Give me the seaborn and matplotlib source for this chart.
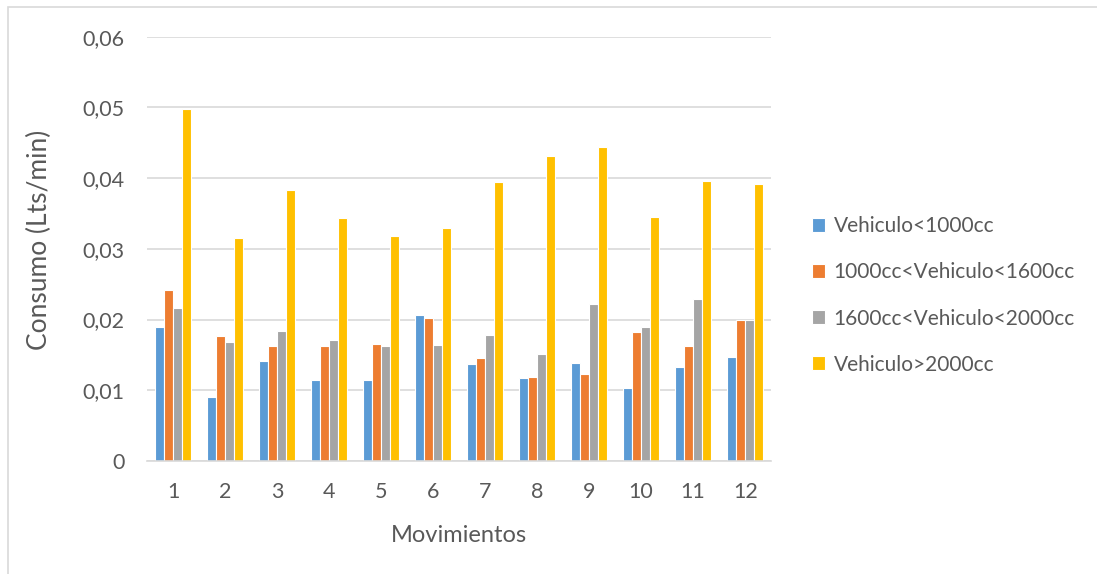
import numpy as np
import matplotlib.pyplot as plt
import pandas as pd
import seaborn as sns
from matplotlib.patches import Rectangle
from matplotlib.ticker import FuncFormatter

movimientos = ['1', '2', '3', '4', '5', '6', '7', '8', '9', '10', '11', '12']
series = ['Vehiculo<1000cc', '1000cc<Vehiculo<1600cc',
          '1600cc<Vehiculo<2000cc', 'Vehiculo>2000cc']
v_1000 = [0.0190, 0.0090, 0.0142, 0.0115, 0.0114, 0.0207,
          0.0137, 0.0117, 0.0139, 0.0103, 0.0133, 0.0147]
v_1000_1600 = [0.0242, 0.0176, 0.0162, 0.0163, 0.0165, 0.0202,
               0.0146, 0.0119, 0.0123, 0.0182, 0.0162, 0.0200]
v_1600_2000 = [0.0216, 0.0168, 0.0184, 0.0171, 0.0162, 0.0164,
               0.0178, 0.0151, 0.0222, 0.0190, 0.0229, 0.0200]
v_2000 = [0.0498, 0.0315, 0.0383, 0.0343, 0.0318, 0.0329,
          0.0394, 0.0432, 0.0444, 0.0345, 0.0396, 0.0391]
colores = ['#5b9bd5', '#ed7d31', '#a5a5a5', '#ffc000']

df = pd.DataFrame({'Movimientos': movimientos * 4,
                   'Serie': np.repeat(series, 12),
                   'Consumo': v_1000 + v_1000_1600 + v_1600_2000 + v_2000})

sns.set_style('white')
plt.rcParams['font.family'] = ['Lato', 'DejaVu Sans']
gris = '#595959'

fig = plt.figure(figsize=(10.97, 5.74), dpi=100)
ax = fig.add_axes([0.134, 0.197, 0.569, 0.739])

sns.barplot(data=df, x='Movimientos', y='Consumo', hue='Serie',
            palette=colores, saturation=1, width=0.69, edgecolor='white',
            linewidth=0.8, ax=ax, legend=True)

ax.set_ylim(0, 0.06)
ax.set_yticks(np.arange(0, 0.061, 0.01))
ax.yaxis.set_major_formatter(FuncFormatter(
    lambda v, p: '0' if abs(v) < 1e-9 else f'{v:.2f}'.replace('.', ',')))
ax.grid(axis='y', color='#d9d9d9', linewidth=1.2)
ax.set_axisbelow(True)
for s in ['top', 'right', 'left']:
    ax.spines[s].set_visible(False)
ax.spines['bottom'].set_color('#d9d9d9')
ax.spines['bottom'].set_linewidth(1.2)
ax.tick_params(axis='both', length=0, labelsize=15.5, colors=gris)
ax.tick_params(axis='x', pad=15)
ax.tick_params(axis='y', pad=16)
ax.set_xlabel('Movimientos', fontsize=17, color=gris, labelpad=17)
ax.set_ylabel('Consumo (Lts/min)', fontsize=19, color=gris)
ax.yaxis.set_label_coords(-0.152, 0.52)

handles, labels = ax.get_legend_handles_labels()
ax.legend(handles, labels, loc='center left', bbox_to_anchor=(1.035, 0.39),
          frameon=False, fontsize=15, labelcolor=gris, handlelength=0.65,
          handleheight=0.65, handletextpad=0.4, labelspacing=1.25)

fig.patches.append(Rectangle((8 / 1097, -0.01), 1.0, 1 - 7 / 574 + 0.01,
                             transform=fig.transFigure, fill=False,
                             edgecolor='#d9d9d9', linewidth=1.2))

fig.savefig('out.png', dpi=100)
